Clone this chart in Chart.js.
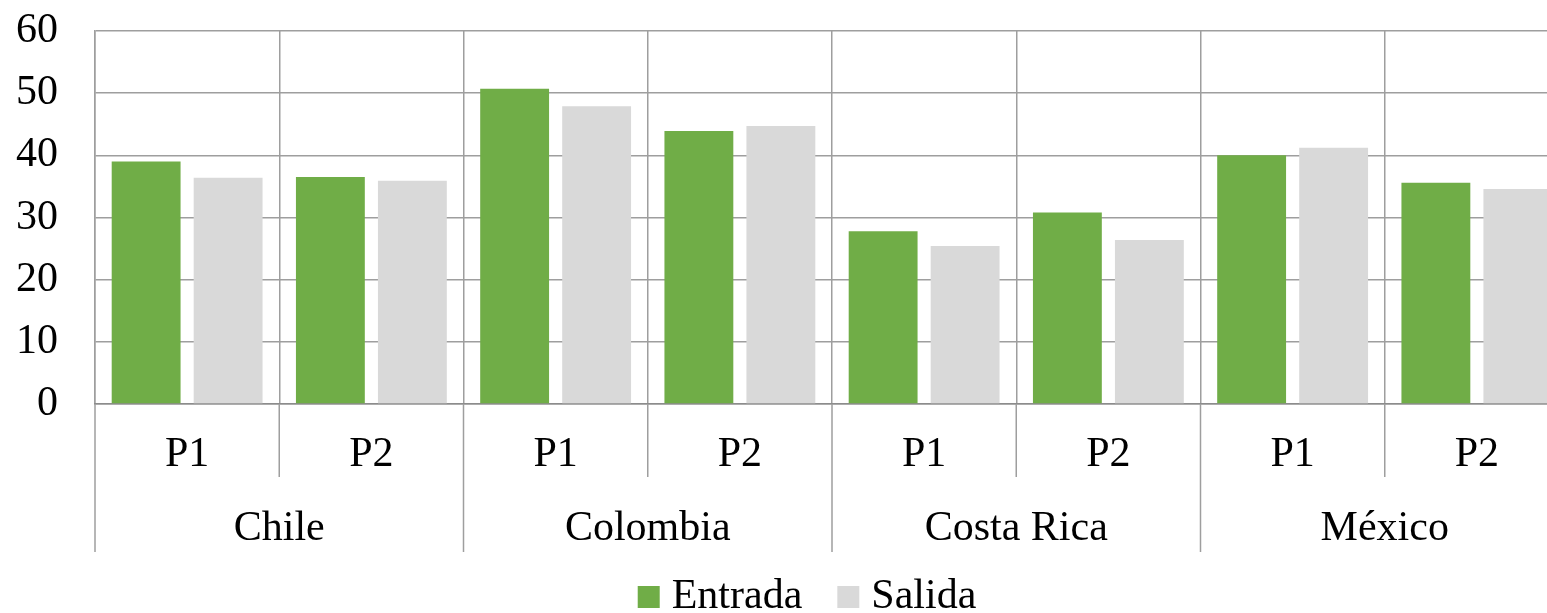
<!DOCTYPE html>
<html>
<head>
<meta charset="utf-8">
<title>Entrada y Salida por país y periodo</title>
<script src="https://cdn.jsdelivr.net/npm/chart.js@4.4.1/dist/chart.umd.min.js"></script>
<style>
  html, body { margin: 0; padding: 0; background: #ffffff; overflow: hidden; }
  #wrap { width: 1610px; height: 613px; }
</style>
</head>
<body>
<div id="wrap"><canvas id="chart" width="1610" height="613"></canvas></div>
<script>
// Countries and the two periods measured in each
const countries = ['Chile', 'Colombia', 'Costa Rica', 'México'];
const periods = ['P1', 'P2'];

// One value per country/period pair, in the order Chile P1, Chile P2, Colombia P1, ...
const entrada = [39.0, 36.5, 50.7, 43.9, 27.8, 30.8, 40.0, 35.6];
const salida  = [36.4, 35.9, 47.9, 44.7, 25.4, 26.4, 41.2, 34.6];

// Value axis range
const yMin = 0;
const yMax = 60;
const yStep = 10;

const seriesNames = ['Entrada', 'Salida'];

// Category labels: the period repeated under each country
const categoryLabels = countries.flatMap(() => periods);

const FONT = '"Liberation Serif", "Times New Roman", Times, serif';
const GRID = '#9e9e9e';

// Separator lines under the axis: short ones between periods,
// long ones between countries (reaching under the country names).
const groupSeparators = {
  id: 'groupSeparators',
  afterDraw(chart) {
    const xs = chart.scales.x;
    const xc = chart.scales.xCountry;
    const ctx = chart.ctx;
    const n = categoryLabels.length;
    const half = (xs.getPixelForValue(1) - xs.getPixelForValue(0)) / 2;
    ctx.save();
    ctx.strokeStyle = GRID;
    ctx.lineWidth = 1.5;
    for (let i = 0; i <= n; i++) {
      const x = (i < n ? xs.getPixelForValue(i) - half : xs.getPixelForValue(n - 1) + half);
      const bottom = (i % periods.length === 0) ? xc.bottom : xs.bottom;
      ctx.beginPath();
      ctx.moveTo(x, xs.top);
      ctx.lineTo(x, bottom);
      ctx.stroke();
    }
    ctx.restore();
  }
};

// Move the legend row so it sits centred under the full figure,
// just below the country names
const legendOffset = {
  id: 'legendOffset',
  afterLayout(chart) {
    if (chart.legend) {
      chart.legend.left += 27;
      chart.legend.right += 27;
      chart.legend.top -= 20;
      chart.legend.bottom -= 20;
    }
  }
};

new Chart(document.getElementById('chart'), {
  type: 'bar',
  data: {
    labels: categoryLabels,
    datasets: [
      {
        label: seriesNames[0],
        data: entrada,
        backgroundColor: '#70AD47',
        borderWidth: 0,
        categoryPercentage: 0.89,
        barPercentage: 0.84
      },
      {
        label: seriesNames[1],
        data: salida,
        backgroundColor: '#D9D9D9',
        borderWidth: 0,
        categoryPercentage: 0.89,
        barPercentage: 0.84
      }
    ]
  },
  options: {
    responsive: false,
    animation: false,
    devicePixelRatio: 1,
    layout: { autoPadding: false, padding: { top: 31, left: 0, right: 41, bottom: -35 } },
    plugins: {
      tooltip: { enabled: false },
      legend: {
        position: 'bottom',
        labels: {
          color: '#000000',
          font: { family: FONT, size: 42 },
          usePointStyle: true,
          pointStyle: 'rect',
          boxWidth: 4,
          boxHeight: 22,
          padding: 44
        }
      }
    },
    scales: {
      y: {
        min: yMin,
        max: yMax,
        afterFit(scale) { scale.width = 95; },
        ticks: {
          stepSize: yStep,
          color: '#000000',
          font: { family: FONT, size: 42 },
          padding: 0
        },
        grid: { color: GRID, lineWidth: 1.5, drawTicks: true, tickLength: 37, tickColor: 'rgba(0,0,0,0)' },
        border: { display: true, color: GRID, width: 1.5 }
      },
      x: {
        type: 'category',
        position: 'bottom',
        weight: 0,
        afterFit(scale) { scale.height = 73; },
        ticks: {
          color: '#000000',
          font: { family: FONT, size: 42 },
          padding: 26,
          maxRotation: 0,
          autoSkip: false
        },
        grid: { offset: true, color: GRID, lineWidth: 1.5, drawTicks: false },
        border: { display: true, color: '#8c8c8c', width: 1.5 }
      },
      xCountry: {
        type: 'category',
        position: 'bottom',
        weight: 1,
        labels: countries,
        offset: true,
        afterFit(scale) { scale.height = 75; },
        ticks: {
          color: '#000000',
          font: { family: FONT, size: 42 },
          padding: 27,
          maxRotation: 0,
          autoSkip: false
        },
        grid: { display: false, drawTicks: false },
        border: { display: false }
      }
    }
  },
  plugins: [groupSeparators, legendOffset]
});
</script>
</body>
</html>
